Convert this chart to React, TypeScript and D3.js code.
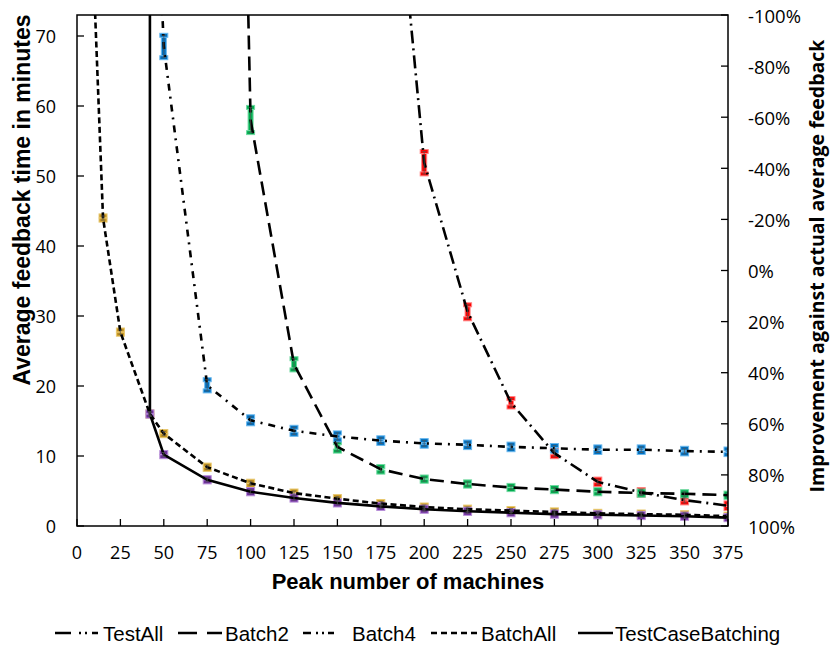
import React from "react";
import * as d3 from "d3";

// ---------- data ----------
const xTicks = [0, 25, 50, 75, 100, 125, 150, 175, 200, 225, 250, 275, 300, 325, 350, 375];
const yTicks = [0, 10, 20, 30, 40, 50, 60, 70];
const pctTicks = [-100, -80, -60, -40, -20, 0, 20, 40, 60, 80, 100];

const testAllX = [175, 200, 225, 250, 275, 300, 325, 350, 375];
const testAllY = [117, 51.9, 30.6, 17.6, 10.4, 6.3, 4.8, 3.7, 2.9];
const testAllErr = [0, 1.6, 1.0, 0.6, 0.5, 0.4, 0.4, 0.4, 0.4];

const batch2X = [75, 100, 125, 150, 175, 200, 225, 250, 275, 300, 325, 350, 375];
const batch2Y = [340, 58, 23.1, 11.3, 8.1, 6.7, 6.0, 5.5, 5.2, 4.9, 4.7, 4.6, 4.4];
const batch2Err = [0, 1.8, 0.8, 0.6, 0.4, 0.3, 0.3, 0.3, 0.3, 0.3, 0.3, 0.3, 0.3];

const batch4X = [25, 50, 75, 100, 125, 150, 175, 200, 225, 250, 275, 300, 325, 350, 375];
const batch4Y = [210, 68.5, 20.1, 15.1, 13.6, 12.8, 12.2, 11.8, 11.6, 11.3, 11.1, 10.9, 10.9, 10.7, 10.6];
const batch4Err = [0, 1.6, 0.8, 0.5, 0.5, 0.5, 0.4, 0.4, 0.4, 0.4, 0.4, 0.4, 0.4, 0.4, 0.4];

const batchAllX = [10, 15, 25, 42, 50, 75, 100, 125, 150, 175, 200, 225, 250, 275, 300, 325, 350, 375];
const batchAllY = [76, 44, 27.7, 16, 13.2, 8.4, 6.1, 4.7, 3.9, 3.2, 2.7, 2.4, 2.2, 2.0, 1.8, 1.7, 1.6, 1.4];
const batchAllErr = [0, 0.3, 0.3, 0.3, 0.3, 0.3, 0.3, 0.3, 0.3, 0.3, 0.3, 0.3, 0.3, 0.3, 0.3, 0.3, 0.3, 0.3];

const tcbX = [42, 42, 50, 75, 100, 125, 150, 175, 200, 225, 250, 275, 300, 325, 350, 375];
const tcbY = [300, 16, 10.2, 6.6, 4.9, 4.0, 3.3, 2.8, 2.4, 2.1, 1.9, 1.7, 1.6, 1.5, 1.4, 1.2];
const tcbErr = [0, 0.3, 0.3, 0.3, 0.3, 0.3, 0.3, 0.3, 0.3, 0.3, 0.3, 0.3, 0.3, 0.3, 0.3, 0.3];

const seriesNames = ["TestAll", "Batch2", "Batch4", "BatchAll", "TestCaseBatching"];

// ---------- styles ----------
const seriesStyle: Record<string, { color: string; halo: string; dash: string; legendDash: string }> = {
  TestAll: { color: "#ff0000", halo: "#ff8080", dash: "13,5,2,5", legendDash: "16,8,2,4,2,5,6" },
  Batch2: { color: "#00b050", halo: "#70d8a0", dash: "14,7", legendDash: "19,10,15" },
  Batch4: { color: "#0070c0", halo: "#6ab8ee", dash: "7,6,2,6", legendDash: "8,5,2,4,2,4,6" },
  BatchAll: { color: "#c8961e", halo: "#e8c870", dash: "6,3.5", legendDash: "6,4" },
  TestCaseBatching: { color: "#7030a0", halo: "#b890d8", dash: "", legendDash: "" },
};

const W = 830;
const H = 653;
const M = { left: 77, right: 728, top: 15, bottom: 526 };

export default function App() {
  const x = d3.scaleLinear().domain([0, 375]).range([M.left, M.right]);
  const y = d3.scaleLinear().domain([0, 73]).range([M.bottom, M.top]);
  const yPct = d3.scaleLinear().domain([-100, 100]).range([M.top, M.bottom]);

  const series = [
    { name: "TestAll", xs: testAllX, ys: testAllY, es: testAllErr },
    { name: "Batch2", xs: batch2X, ys: batch2Y, es: batch2Err },
    { name: "Batch4", xs: batch4X, ys: batch4Y, es: batch4Err },
    { name: "BatchAll", xs: batchAllX, ys: batchAllY, es: batchAllErr },
    { name: "TestCaseBatching", xs: tcbX, ys: tcbY, es: tcbErr },
  ];

  const line = d3
    .line<[number, number]>()
    .x((d) => x(d[0]))
    .y((d) => y(d[1]));

  const tickFont = "'Open Sans', sans-serif";

  const legendLayout = [
    { s0: 55, s1: 100, t: 103 },
    { s0: 178, s1: 222, t: 225 },
    { s0: 303, s1: 336, t: 352 },
    { s0: 431, s1: 480, t: 481 },
    { s0: 578, s1: 613, t: 615 },
  ];

  return (
    <svg width={W} height={H} style={{ position: "absolute", left: 0, top: 0, background: "#fff" }}>
      <defs>
        <clipPath id="plotClip">
          <rect x={M.left} y={M.top} width={M.right - M.left} height={M.bottom - M.top} />
        </clipPath>
      </defs>
      <rect x={0} y={0} width={W} height={H} fill="#fff" />

      {/* markers with error bars */}
      <g clipPath="url(#plotClip)">
        {series.map((s) =>
          s.xs.map((xv, i) => {
            const v = s.ys[i];
            if (v > 73) return null;
            const e = s.es[i];
            const st = seriesStyle[s.name];
            const cx = x(xv);
            const yt = y(v + e);
            const yb = y(v - e);
            return (
              <g key={s.name + i}>
                <rect x={cx - 2.5} y={yt} width={5} height={Math.max(yb - yt, 1)} fill={st.color} stroke={st.halo} strokeWidth={1} />
                <rect x={cx - 4} y={yt - 2} width={8} height={4} fill={st.color} stroke={st.halo} strokeWidth={1} />
                <rect x={cx - 4} y={yb - 2} width={8} height={4} fill={st.color} stroke={st.halo} strokeWidth={1} />
              </g>
            );
          })
        )}
      </g>

      {/* lines */}
      <g clipPath="url(#plotClip)">
        {series.map((s) => {
          const st = seriesStyle[s.name];
          const pts = s.xs.map((xv, i) => [xv, s.ys[i]] as [number, number]);
          return (
            <path
              key={s.name}
              d={line(pts) || ""}
              fill="none"
              stroke="#000"
              strokeWidth={2.6}
              strokeDasharray={st.dash || undefined}
            />
          );
        })}
      </g>

      {/* thin error bars on top */}
      <g clipPath="url(#plotClip)">
        {series.map((s) =>
          s.xs.map((xv, i) => {
            const v = s.ys[i];
            if (v > 73) return null;
            const e = s.es[i];
            const cx = x(xv);
            const yt = y(v + e);
            const yb = y(v - e);
            return (
              <g key={"eb" + s.name + i} stroke="#555" strokeWidth={1} opacity={0.7}>
                <line x1={cx} x2={cx} y1={yt} y2={yb} />
                <line x1={cx - 2} x2={cx + 2} y1={yt} y2={yt} />
                <line x1={cx - 2} x2={cx + 2} y1={yb} y2={yb} />
              </g>
            );
          })
        )}
      </g>

      {/* frame */}
      <rect x={M.left} y={M.top} width={M.right - M.left} height={M.bottom - M.top} fill="none" stroke="#000" strokeWidth={1.5} />

      {/* x ticks */}
      {xTicks.map((t) => (
        <g key={"xt" + t}>
          <line x1={x(t)} x2={x(t)} y1={M.bottom} y2={M.bottom - 7} stroke="#000" strokeWidth={1.3} />
          <text x={x(t)} y={552} textAnchor="middle" dominantBaseline="central" fontFamily={tickFont} fontSize={18} fill="#000">
            {t}
          </text>
        </g>
      ))}

      {/* left y ticks */}
      {yTicks.map((t) => (
        <g key={"yt" + t}>
          <line x1={M.left} x2={M.left + 7} y1={y(t)} y2={y(t)} stroke="#000" strokeWidth={1.3} />
          <text x={56} y={y(t)} textAnchor="end" dominantBaseline="central" fontFamily={tickFont} fontSize={18} fill="#000">
            {t}
          </text>
        </g>
      ))}

      {/* right pct ticks */}
      {pctTicks.map((t) => (
        <g key={"pt" + t}>
          <line x1={M.right} x2={M.right - 7} y1={yPct(t)} y2={yPct(t)} stroke="#000" strokeWidth={1.3} />
          <text x={748} y={yPct(t)} textAnchor="start" dominantBaseline="central" fontFamily={tickFont} fontSize={18.5} fill="#000">
            {t + "%"}
          </text>
        </g>
      ))}

      {/* axis titles */}
      <text
        transform="translate(22,200) rotate(-90)"
        textAnchor="middle"
        dominantBaseline="central"
        fontFamily="'Liberation Sans', Arial, sans-serif"
        fontWeight="bold"
        fontSize={23}
      >
        Average feedback time in minutes
      </text>
      <text x={408} y={581} textAnchor="middle" dominantBaseline="central" fontFamily="'Liberation Sans', Arial, sans-serif" fontWeight="bold" fontSize={22}>
        Peak number of machines
      </text>
      <text
        transform="translate(816,266) rotate(-90)"
        textAnchor="middle"
        dominantBaseline="central"
        fontFamily="'Open Sans', sans-serif"
        fontWeight="bold"
        fontSize={19.5}
      >
        Improvement against actual average feedback
      </text>

      {/* legend */}
      {seriesNames.map((n, i) => {
        const st = seriesStyle[n];
        const L = legendLayout[i];
        return (
          <g key={"lg" + n}>
            <line x1={L.s0} x2={L.s1} y1={633} y2={633} stroke="#000" strokeWidth={2.6} strokeDasharray={st.legendDash || undefined} />
            <text x={L.t} y={633} dominantBaseline="central" fontFamily="'Liberation Sans', Arial, sans-serif" fontSize={20.5} fill="#000">
              {n}
            </text>
          </g>
        );
      })}
    </svg>
  );
}
